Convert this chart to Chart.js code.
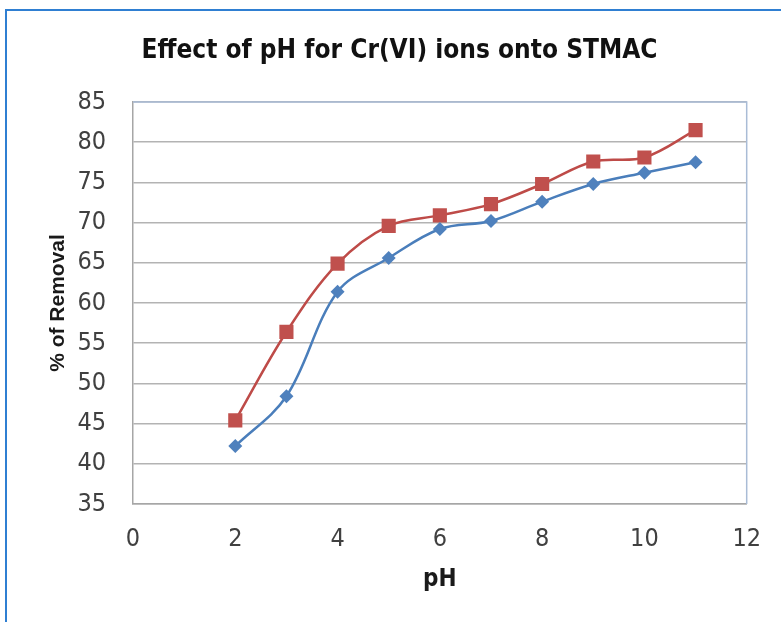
<!DOCTYPE html>
<html>
<head>
<meta charset="utf-8">
<title>Effect of pH for Cr(VI) ions onto STMAC</title>
<script src="https://cdn.jsdelivr.net/npm/chart.js@4.4.1/dist/chart.umd.min.js"></script>
<style>
  html, body { margin: 0; padding: 0; background: #fff; }
  canvas { display: block; }
</style>
</head>
<body>
<canvas id="phChart" width="781" height="622"></canvas>
<script>
// values
const phValues = [2, 3, 4, 5, 6, 7, 8, 9, 10, 11];
const removalBlue = [42.2, 48.4, 61.4, 65.6, 69.2, 70.2, 72.6, 74.8, 76.2, 77.5];
const removalRed = [45.4, 56.4, 64.9, 69.6, 70.9, 72.3, 74.8, 77.6, 78.1, 81.5];

const NARROW = "'Liberation Sans Narrow', 'DejaVu Sans Condensed', 'Liberation Sans', sans-serif";
const WIDE = "'Liberation Sans', Arial, sans-serif";

function toPoints(ys) {
  return phValues.map((x, i) => ({ x: x, y: ys[i] }));
}

// outer frame + top/right plot border
const frame = {
  id: "frame",
  beforeDraw(chart) {
    const c = chart.ctx;
    c.save();
    c.strokeStyle = "#2f7fd2";
    c.lineWidth = 2;
    c.strokeRect(6, 10, 900, 900);
    c.restore();
  },
  afterDatasetsDraw(chart) {
    const a = chart.chartArea;
    const c = chart.ctx;
    c.save();
    c.strokeStyle = "#a9bcd6";
    c.lineWidth = 1.5;
    c.beginPath();
    c.moveTo(a.left, a.top);
    c.lineTo(a.right, a.top);
    c.lineTo(a.right, a.bottom);
    c.stroke();
    c.restore();
  }
};

const ctx = document.getElementById("phChart");
const chart = new Chart(ctx, {
  type: "line",
  data: {
    datasets: [
      {
        label: "series 1",
        data: toPoints(removalBlue),
        borderColor: "#4a7ebb",
        backgroundColor: "#4f81bd",
        borderWidth: 2.5,
        pointStyle: "rectRot",
        pointRadius: 7,
        pointBorderWidth: 0,
        tension: 0.35,
      },
      {
        label: "series 2",
        data: toPoints(removalRed),
        borderColor: "#be4b48",
        backgroundColor: "#c0504d",
        borderWidth: 2.5,
        pointStyle: "rect",
        pointRadius: 10,
        pointBorderWidth: 0,
        tension: 0.35,
      },
    ],
  },
  options: {
    responsive: false,
    animation: false,
    layout: { padding: { left: 48, right: 30, top: 0, bottom: 0 } },
    scales: {
      x: {
        type: "linear",
        min: 0,
        max: 12,
        afterFit: (s) => { s.height = 118; },
        ticks: {
          stepSize: 2,
          padding: 20,
          color: "#404040",
          font: { family: NARROW, size: 25 },
        },
        grid: { display: false, drawTicks: false },
        border: { display: true, color: "#a6a6a6", width: 1.5 },
        title: {
          display: true,
          text: "pH",
          color: "#1a1a1a",
          font: { family: NARROW, size: 24, weight: "bold" },
          padding: { bottom: 28 },
        },
      },
      y: {
        min: 35,
        max: 85,
        afterFit: (s) => { s.width = 85; },
        ticks: {
          stepSize: 5,
          padding: 27,
          color: "#404040",
          font: { family: NARROW, size: 25 },
        },
        grid: { color: "#b3b3b3", lineWidth: 1.5, drawTicks: false },
        border: { display: true, color: "#a6a6a6", width: 1.5 },
        title: {
          display: true,
          text: "% of Removal",
          color: "#1a1a1a",
          font: { family: WIDE, size: 21, weight: "bold", lineHeight: 1 },
          padding: { top: 0 },
        },
      },
    },
    plugins: {
      legend: { display: false },
      tooltip: { enabled: false },
      title: {
        display: true,
        text: "Effect of pH for Cr(VI) ions onto STMAC",
        color: "#111",
        font: { family: NARROW, size: 26, weight: "bold" },
        padding: { top: 36, bottom: 34.8 },
      },
    },
  },
  plugins: [frame],
});
</script>
</body>
</html>
